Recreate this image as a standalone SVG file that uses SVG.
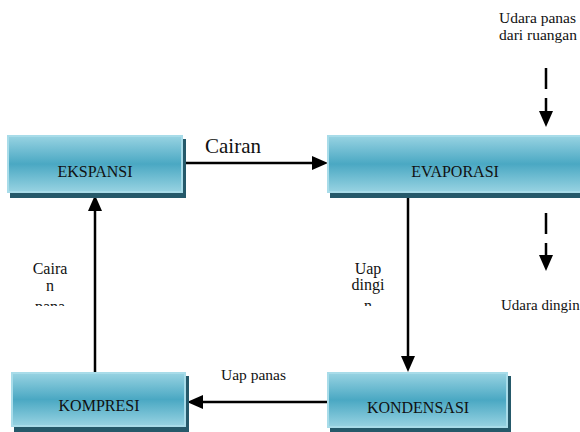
<svg xmlns="http://www.w3.org/2000/svg" width="580" height="432" viewBox="0 0 580 432">
  <defs>
    <linearGradient id="boxGrad" x1="0" y1="0" x2="0" y2="1">
      <stop offset="0" stop-color="#98d3e2"/>
      <stop offset="0.5" stop-color="#4aa8c3"/>
      <stop offset="1" stop-color="#98d3e2"/>
    </linearGradient>
    <marker id="arrow" markerUnits="userSpaceOnUse" markerWidth="16" markerHeight="14" refX="0" refY="7" orient="auto" overflow="visible">
      <path d="M0,0 L16,7 L0,14 Z" fill="#000"/>
    </marker>
    <clipPath id="clipLeft"><rect x="0" y="250" width="120" height="56"/></clipPath>
    <clipPath id="clipRight"><rect x="330" y="250" width="70" height="56"/></clipPath>
  </defs>
  <style>
    .shadow { fill: #25596a; }
    .box { fill: url(#boxGrad); stroke: #a8dce9; stroke-width: 2; }
    text { font-family: "Liberation Serif", "DejaVu Serif", serif; fill: #111; }
    .t16 { font-size: 16px; }
    .t15 { font-size: 15.5px; }
    .t21 { font-size: 21px; }
    .mid { text-anchor: middle; }
    .conn { stroke: #000; stroke-width: 2.5; fill: none; marker-end: url(#arrow); }
    .dash { stroke-dasharray: 21 9; }
  </style>

  <g id="connectors">
    <path class="conn" d="M183,163 H312"/>
    <path class="conn" d="M95,372 V211"/>
    <path class="conn" d="M408,197 V356"/>
    <path class="conn" d="M327,402 H203"/>
    <path class="conn dash" d="M546,68 V111"/>
    <path class="conn dash" d="M546,213 V255"/>
  </g>

  <g id="ekspansi">
    <rect class="shadow" x="10" y="139" width="176" height="59"/>
    <rect class="box" x="8" y="136" width="174" height="56"/>
    <text class="mid t16" x="95" y="177">EKSPANSI</text>
  </g>

  <g id="evaporasi">
    <rect class="shadow" x="330" y="139" width="260" height="59"/>
    <rect class="box" x="328" y="136" width="262" height="56"/>
    <text class="mid t16" x="455" y="177">EVAPORASI</text>
  </g>

  <g id="kompresi">
    <rect class="shadow" x="14" y="376" width="175" height="56"/>
    <rect class="box" x="12" y="373" width="173" height="53"/>
    <text class="mid t16" x="99" y="411">KOMPRESI</text>
  </g>

  <g id="kondensasi">
    <rect class="shadow" x="330" y="376" width="181" height="56"/>
    <rect class="box" x="328" y="373" width="179" height="54"/>
    <text class="mid t16" x="418" y="413">KONDENSASI</text>
  </g>

  <g id="labels">
    <text class="t21" x="205" y="153">Cairan</text>
    <text class="t15" x="221" y="380">Uap panas</text>
    <text class="t15" x="499" y="23">Udara panas</text>
    <text class="t15" x="499" y="40">dari ruangan</text>
    <text x="501" y="310" style="font-size:15px">Udara dingin</text>
    <g clip-path="url(#clipLeft)">
      <text class="mid t16" x="50" y="274">Caira</text>
      <text class="mid t16" x="50" y="291">n</text>
      <text class="mid t16" x="50" y="312">pana</text>
    </g>
    <g clip-path="url(#clipRight)">
      <text class="mid t16" x="368" y="274">Uap</text>
      <text class="mid t16" x="368" y="290">dingi</text>
      <text class="mid t16" x="368" y="311">n</text>
    </g>
  </g>
</svg>
